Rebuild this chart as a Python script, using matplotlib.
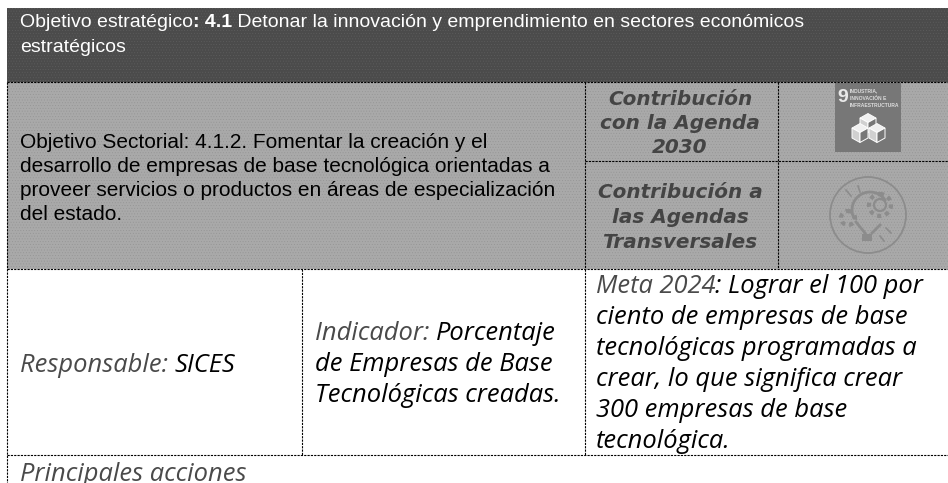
import numpy as np
import matplotlib
matplotlib.use("Agg")
import matplotlib.pyplot as plt
from matplotlib.patches import Arc, Circle, Polygon, Rectangle

# table text
title_plain = "Objetivo estratégico"
title_bold = ": 4.1"
title_rest = " Detonar la innovación y emprendimiento en sectores económicos"
title_line2 = "estratégicos"
sector_lines = [
    "Objetivo Sectorial: 4.1.2. Fomentar la creación y el",
    "desarrollo de empresas de base tecnológica orientadas a",
    "proveer servicios o productos en áreas de especialización",
    "del estado.",
]
agenda_lines = ["Contribución", "con la Agenda", "2030"]
transversal_lines = ["Contribución a", "las Agendas", "Transversales"]
sdg_lines = ["INDUSTRIA,", "INNOVACIÓN E", "INFRAESTRUCTURA"]
resp_label = "Responsable: "
resp_value = "SICES"
ind_label = "Indicador: "
ind_lines = ["Porcentaje", "de Empresas de Base", "Tecnológicas creadas."]
meta_label = "Meta 2024"
meta_lines = [
    ": Lograr el 100 por",
    "ciento de empresas de base",
    "tecnológicas programadas a",
    "crear, lo que significa crear",
    "300 empresas de base",
    "tecnológica.",
]
footer = "Principales acciones"

W, H = 948, 483
DARK = "#4b4b4b"
GRAY = "#a9a9a9"
BODY = "Open Sans"

fig = plt.figure(figsize=(W / 100, H / 100), dpi=100)
ax = fig.add_axes([0, 0, 1, 1])
ax.set_xlim(0, W)
ax.set_ylim(H, 0)
ax.axis("off")

# shaded rows, the stipple stands in for the scanned dither
plt.rcParams["hatch.linewidth"] = 0.3
ax.add_patch(Rectangle((7, 8), W - 7, 74, fc=DARK, ec="#5f5f5f", hatch="......", lw=0))
ax.add_patch(Rectangle((7, 82), W - 7, 187, fc=GRAY, ec="#939393", hatch="......", lw=0))

def hline(y, x0, x1):
    ax.plot([x0, x1], [y, y], color="black", lw=0.8, dashes=(2, 1))

def vline(x, y0, y1):
    ax.plot([x, x], [y0, y1], color="black", lw=0.8, dashes=(2, 1))

hline(82, 7, W)
hline(161, 585, W)
hline(269, 7, W)
hline(455, 7, W)
vline(7, 82, H)
vline(585, 82, 269)
vline(778, 82, 269)
vline(302, 269, 455)
vline(585, 269, 455)

def runs(x, y, parts, **kw):
    # draw text pieces one after the other on a line
    r = fig.canvas.get_renderer()
    for s, opts in parts:
        t = ax.text(x, y, s, va="baseline", **kw, **opts)
        x = ax.transData.inverted().transform(t.get_window_extent(r))[1, 0]
    return x

# header
runs(20, 27, [(title_plain, dict(color="white")),
              (title_bold, dict(color="white", fontweight="bold")),
              (title_rest, dict(color="white"))],
     family="Liberation Sans", fontsize=14)
ax.text(20, 52, title_line2, color="white", family="Liberation Sans", fontsize=14, va="baseline")

for i, line in enumerate(sector_lines):
    ax.text(20, 148 + i * 24, line, color="black", family="Liberation Sans", fontsize=15.05, va="baseline")

for i, line in enumerate(agenda_lines):
    ax.text(680, 105 + i * 24, line, color="#444444", family="DejaVu Sans", fontsize=14.4,
            fontweight="bold", style="italic", ha="center", va="baseline")
for i, line in enumerate(transversal_lines):
    ax.text(680, 198 + i * 25, line, color="#444444", family="DejaVu Sans", fontsize=14.4,
            fontweight="bold", style="italic", ha="center", va="baseline")

# SDG 9 tile
TILE = "#777777"
ax.add_patch(Rectangle((835, 83), 66, 69, fc=TILE, ec="none"))
ax.text(842.5, 102, "9", color="#e8e8e8", family="Liberation Sans", fontsize=14, fontweight="bold",
        ha="center", va="baseline")
for i, line in enumerate(sdg_lines):
    ax.text(850, 92 + i * 7.5, line, color="#dddddd", family="Liberation Sans", fontsize=3.6, fontweight="bold")
for cx, cy in [(868, 118), (860, 128), (877, 128)]:
    ax.add_patch(Polygon([(cx - 8, cy), (cx, cy - 4.5), (cx + 8, cy), (cx, cy + 4.5)], fc="#f0f0f0", ec="white", lw=0.6))
    ax.add_patch(Polygon([(cx - 8, cy), (cx, cy + 4.5), (cx, cy + 14.5), (cx - 8, cy + 10)], fc="#d0d0d0", ec="white", lw=0.7))
    ax.add_patch(Polygon([(cx + 8, cy), (cx, cy + 4.5), (cx, cy + 14.5), (cx + 8, cy + 10)], fc=TILE, ec="white", lw=0.7))

# faint bulb icon
ICON = "#8c8c8c"
ax.add_patch(Circle((868, 215), 38, fc="none", ec=ICON, lw=1.3))
ax.add_patch(Arc((870, 210), 36, 36, theta1=150, theta2=330, ec=ICON, lw=2))
ax.add_patch(Circle((880, 205), 6, fc="none", ec=ICON, lw=1.6))
ax.add_patch(Circle((880, 205), 11, fc="none", ec=ICON, lw=3, linestyle=(0, (1, 1))))
ax.add_patch(Circle((848, 218), 7, fc="none", ec=ICON, lw=3, linestyle=(0, (1, 1))))
ax.plot([856, 865], [222, 233], color=ICON, lw=2)
ax.plot([880, 872], [225, 233], color=ICON, lw=2)
ax.add_patch(Rectangle((862, 234), 10, 7, fc=ICON, ec="none"))
for x0, y0, x1, y1 in [(846, 190, 851, 196), (858, 186, 860, 192), (886, 228, 891, 233), (880, 236, 884, 241)]:
    ax.plot([x0, x1], [y0, y1], color=ICON, lw=1.2)

# white row
LABEL = "#4a4a4a"
body = dict(family=BODY, style="italic", fontsize=18.4)
runs(20, 372, [(resp_label, dict(color=LABEL)), (resp_value, dict(color="black"))], **body)
runs(315, 340, [(ind_label, dict(color=LABEL)), (ind_lines[0], dict(color="black"))], **body)
ax.text(315, 371, ind_lines[1], color="black", va="baseline", **body)
ax.text(315, 402, ind_lines[2], color="black", va="baseline", **body)
runs(596, 293, [(meta_label, dict(color=LABEL)), (meta_lines[0], dict(color="black"))], **body)
for i, line in enumerate(meta_lines[1:], start=1):
    ax.text(596, 293 + i * 31, line, color="black", va="baseline", **body)
ax.text(20, 481, footer, color=LABEL, va="baseline", **body)

fig.savefig("out.png", dpi=100)
